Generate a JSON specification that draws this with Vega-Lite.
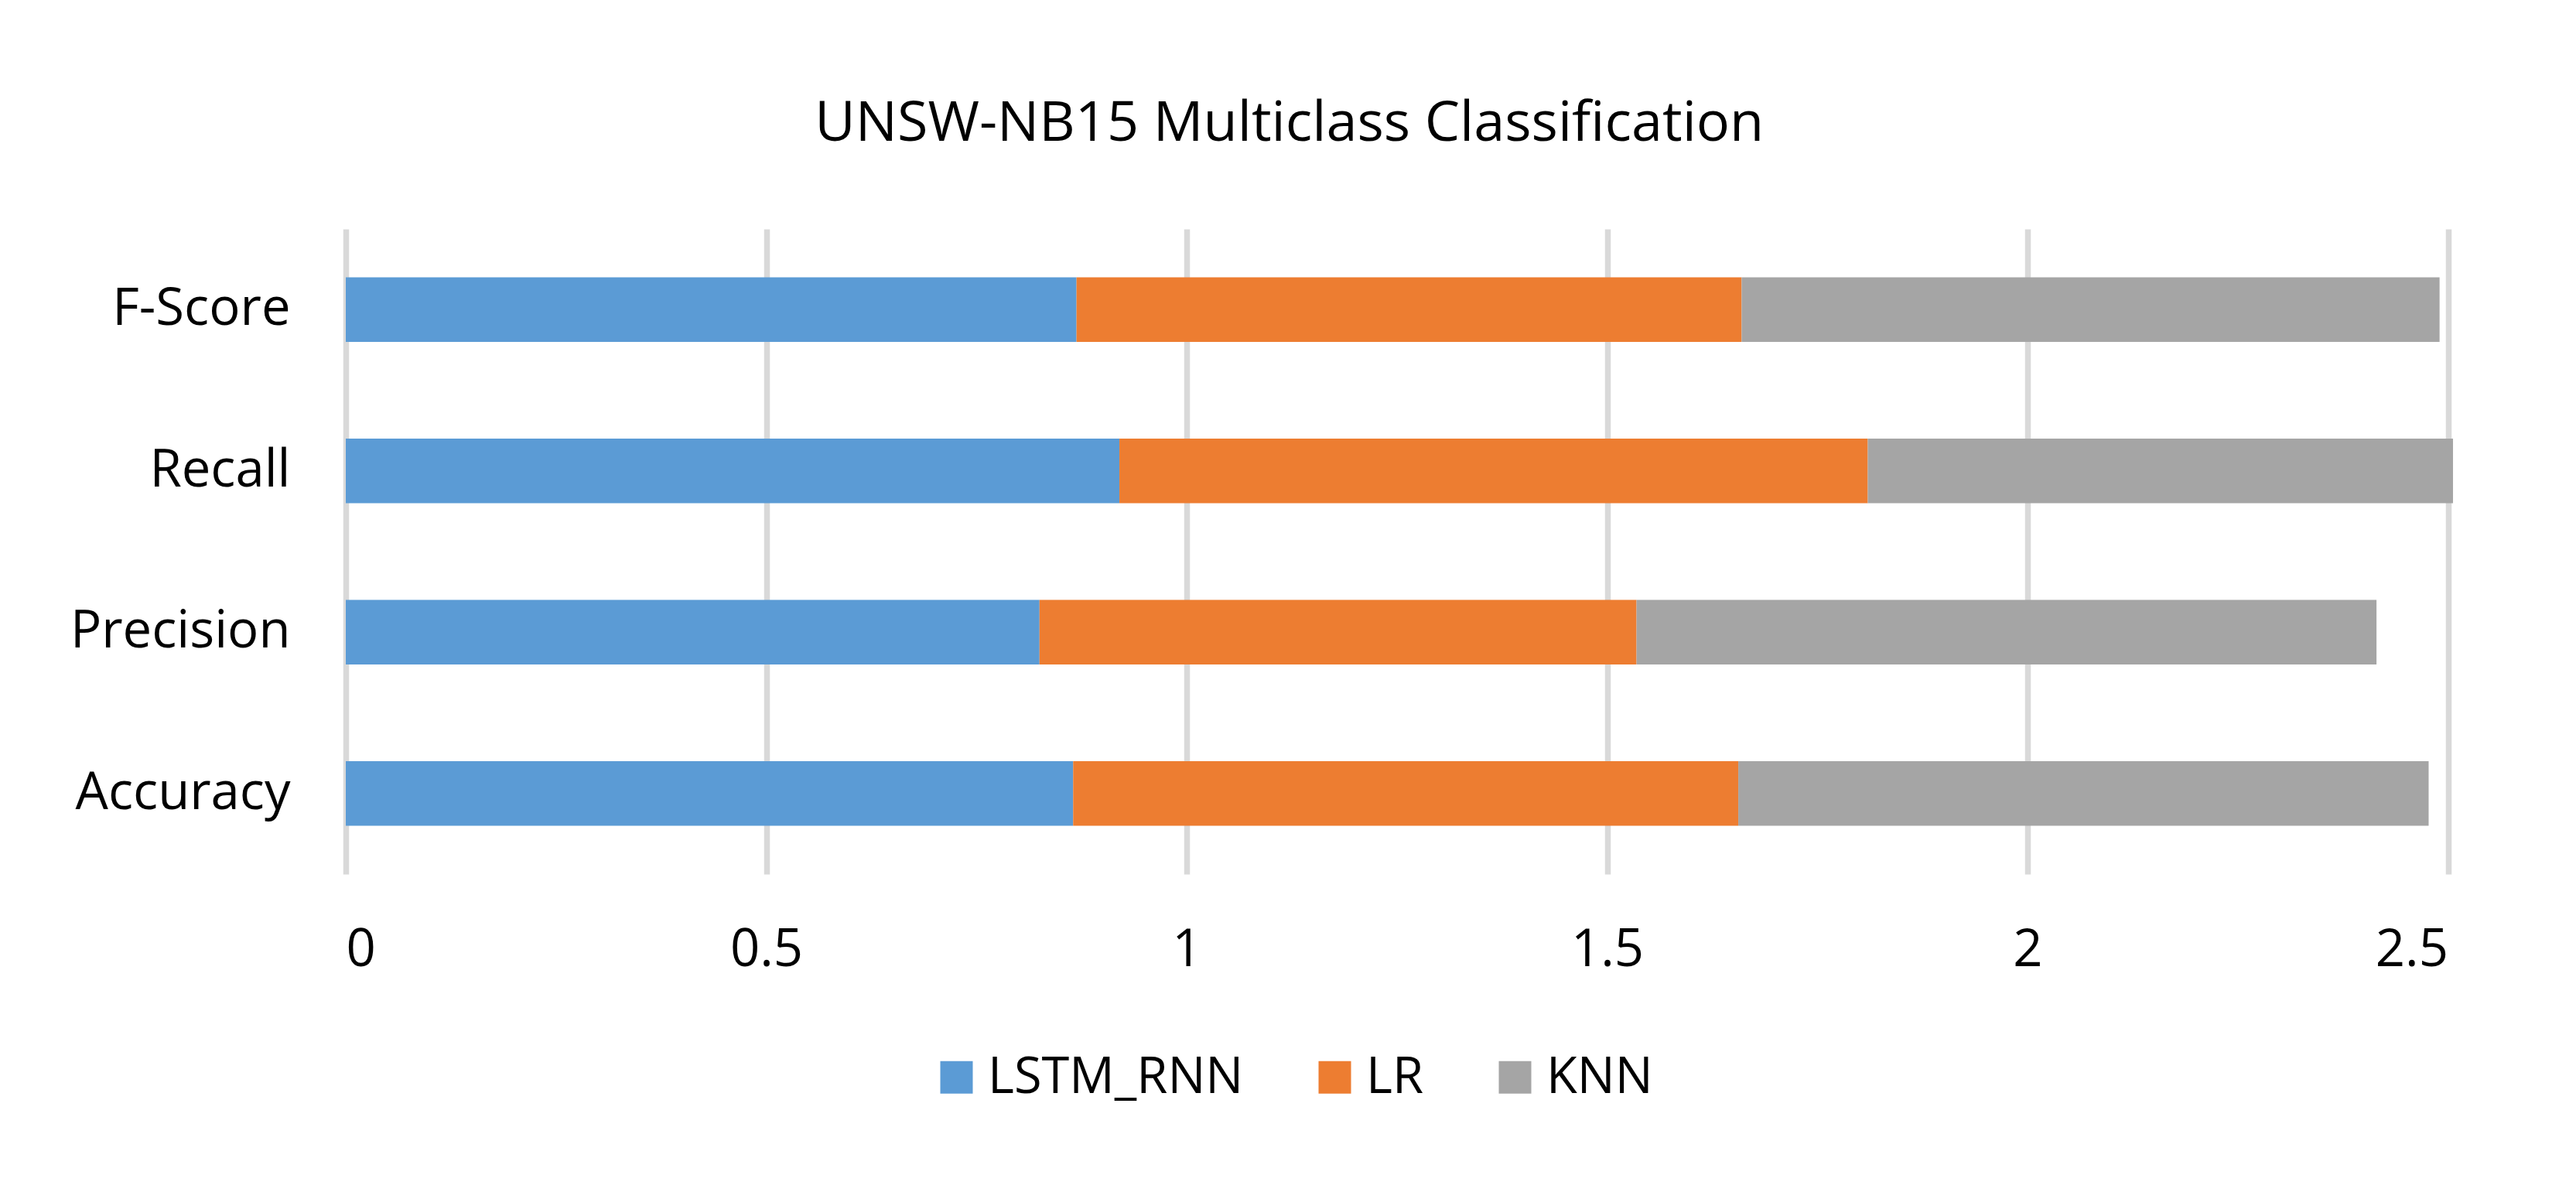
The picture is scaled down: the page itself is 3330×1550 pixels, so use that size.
{
  "$schema": "https://vega.github.io/schema/vega-lite/v6.json",
  "autosize": {"type": "none"},
  "width": 2717.5,
  "height": 834,
  "padding": {"left": 447, "top": 296, "right": 165.5, "bottom": 420},
  "background": "white",
  "title": {
    "text": "UNSW-NB15 Multiclass Classification",
    "font": "Open Sans",
    "fontSize": 72,
    "fontWeight": "normal",
    "color": "#000000",
    "anchor": "middle",
    "baseline": "alphabetic",
    "offset": 42,
    "dx": -139
  },
  "data": {
    "values": [
      {"Metric": "F-Score", "Model": "LSTM_RNN", "Value": 0.869},
      {"Metric": "F-Score", "Model": "LR", "Value": 0.791},
      {"Metric": "F-Score", "Model": "KNN", "Value": 0.830},
      {"Metric": "Recall", "Model": "LSTM_RNN", "Value": 0.920},
      {"Metric": "Recall", "Model": "LR", "Value": 0.890},
      {"Metric": "Recall", "Model": "KNN", "Value": 0.696},
      {"Metric": "Precision", "Model": "LSTM_RNN", "Value": 0.825},
      {"Metric": "Precision", "Model": "LR", "Value": 0.710},
      {"Metric": "Precision", "Model": "KNN", "Value": 0.880},
      {"Metric": "Accuracy", "Model": "LSTM_RNN", "Value": 0.865},
      {"Metric": "Accuracy", "Model": "LR", "Value": 0.791},
      {"Metric": "Accuracy", "Model": "KNN", "Value": 0.821}
    ]
  },
  "mark": {"type": "bar"},
  "encoding": {
    "y": {
      "field": "Metric",
      "type": "nominal",
      "sort": ["F-Score", "Recall", "Precision", "Accuracy"],
      "scale": {"paddingInner": 0.6, "paddingOuter": 0.3},
      "axis": {
        "title": null,
        "domain": false,
        "ticks": false,
        "labelPadding": 72,
        "labelLimit": 2000,
        "labelFont": "Open Sans",
        "labelFontSize": 67,
        "labelColor": "#000000",
        "labelExpr": "datum.label == 'Precision' ? 'Precision\u00a0' : datum.label"
      }
    },
    "x": {
      "field": "Value",
      "type": "quantitative",
      "stack": "zero",
      "scale": {"domain": [0, 2.5], "nice": false},
      "axis": {
        "title": null,
        "values": [0, 0.5, 1, 1.5, 2, 2.5],
        "format": "~g",
        "domain": false,
        "ticks": false,
        "tickSize": 0,
        "labelPadding": 65,
        "labelFont": "Open Sans",
        "labelFontSize": 67,
        "labelColor": "#000000",
        "grid": true,
        "gridColor": "#D9D9D9",
        "gridWidth": 7.5
      }
    },
    "order": {"field": "Model", "sort": "descending"},
    "color": {
      "field": "Model",
      "type": "nominal",
      "sort": ["LSTM_RNN", "LR", "KNN"],
      "scale": {
        "domain": ["LSTM_RNN", "LR", "KNN"],
        "range": ["#5B9BD5", "#ED7D31", "#A5A5A5"]
      },
      "legend": {
        "orient": "none",
        "legendX": 757,
        "legendY": 1064,
        "direction": "horizontal",
        "title": null,
        "symbolType": "square",
        "symbolSize": 1764,
        "symbolStrokeWidth": 0,
        "symbolOpacity": 1,
        "labelFont": "Open Sans",
        "labelFontSize": 65,
        "labelLimit": 2000,
        "labelColor": "#000000",
        "labelOffset": 8,
        "columnPadding": 85,
        "padding": 0
      }
    }
  },
  "config": {"view": {"stroke": null}}
}
